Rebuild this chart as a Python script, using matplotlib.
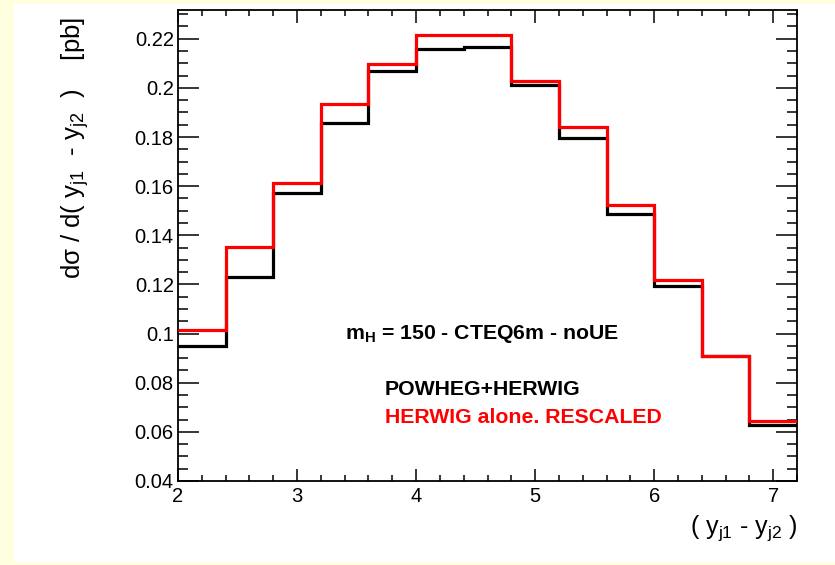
import numpy as np
import matplotlib.pyplot as plt
from matplotlib.patches import Rectangle
from matplotlib.ticker import MultipleLocator

plt.rcParams['font.family'] = ['Liberation Sans', 'DejaVu Sans']
plt.rcParams['mathtext.fontset'] = 'custom'
plt.rcParams['mathtext.rm'] = 'Liberation Sans'
plt.rcParams['mathtext.default'] = 'regular'

# ===== data =====
bin_edges = [2.0, 2.4, 2.8, 3.2, 3.6, 4.0, 4.4, 4.8, 5.2, 5.6, 6.0, 6.4, 6.8, 7.2]
powheg_herwig = [0.0948, 0.1231, 0.1572, 0.1859, 0.2070, 0.2159, 0.2166,
                 0.2012, 0.1794, 0.1487, 0.1194, 0.0907, 0.0629]
herwig_rescaled = [0.1014, 0.1354, 0.1613, 0.1934, 0.2098, 0.2214, 0.2216,
                   0.2026, 0.1839, 0.1525, 0.1218, 0.0907, 0.0645]

fig = plt.figure(figsize=(8.35, 5.65), dpi=100)
fig.patch.set_facecolor('#ffffe0')
# white pad inside the yellow border
fig.patches.append(Rectangle((14 / 835, 3 / 565), 1 - 14 / 835, 1 - 7 / 565,
                             transform=fig.transFigure, facecolor='white',
                             edgecolor='none', zorder=-1))

ax = fig.add_axes([178 / 835, 1 - 481 / 565, (797 - 178) / 835, (481 - 10) / 565])
ax.set_facecolor('white')

ax.stairs(powheg_herwig, bin_edges, baseline=None, color='black', lw=2.3, zorder=3)
ax.stairs(herwig_rescaled, bin_edges, baseline=None, color='#ff0000', lw=2.3, zorder=4)

ax.set_xlim(2, 7.2)
ax.set_ylim(0.04, 0.2317)
ax.xaxis.set_major_locator(MultipleLocator(1))
ax.xaxis.set_minor_locator(MultipleLocator(0.2))
ax.yaxis.set_major_locator(MultipleLocator(0.02))
ax.yaxis.set_minor_locator(MultipleLocator(0.005))
ax.yaxis.set_major_formatter(plt.FuncFormatter(lambda v, p: f'{v:.2f}'.rstrip('0')))

ax.tick_params(axis='both', which='both', direction='in', top=True, right=True,
               width=1.1, labelsize=14.5)
ax.tick_params(axis='x', which='major', length=9, pad=4)
ax.tick_params(axis='x', which='minor', length=4.5)
ax.tick_params(axis='y', which='major', length=15, pad=3)
ax.tick_params(axis='y', which='minor', length=7.5)
for s in ax.spines.values():
    s.set_linewidth(1.3)

ax.text(797 / 835, 1 - 528 / 565, r'( y$_{j1}$ - y$_{j2}$ )', transform=fig.transFigure,
        ha='right', va='center', fontsize=18)
ax.text(75 / 835, 1 - 17 / 565, r'd$\sigma$ / d( y$_{j1}$  - y$_{j2}$  )    [pb]',
        transform=fig.transFigure, rotation=90, ha='center', va='top', fontsize=18.5)

ax.text(345 / 835, 1 - 339 / 565, r'm$_{H}$ = 150 - CTEQ6m - noUE', transform=fig.transFigure,
        ha='left', va='baseline', fontsize=15.3, fontweight='bold')
ax.text(385 / 835, 1 - 395 / 565, 'POWHEG+HERWIG', transform=fig.transFigure,
        ha='left', va='baseline', fontsize=15.3, fontweight='bold', color='black')
ax.text(385 / 835, 1 - 423 / 565, 'HERWIG alone. RESCALED', transform=fig.transFigure,
        ha='left', va='baseline', fontsize=15.3, fontweight='bold', color='#ff0000')

fig.savefig('out.png', dpi=100, facecolor=fig.get_facecolor())
